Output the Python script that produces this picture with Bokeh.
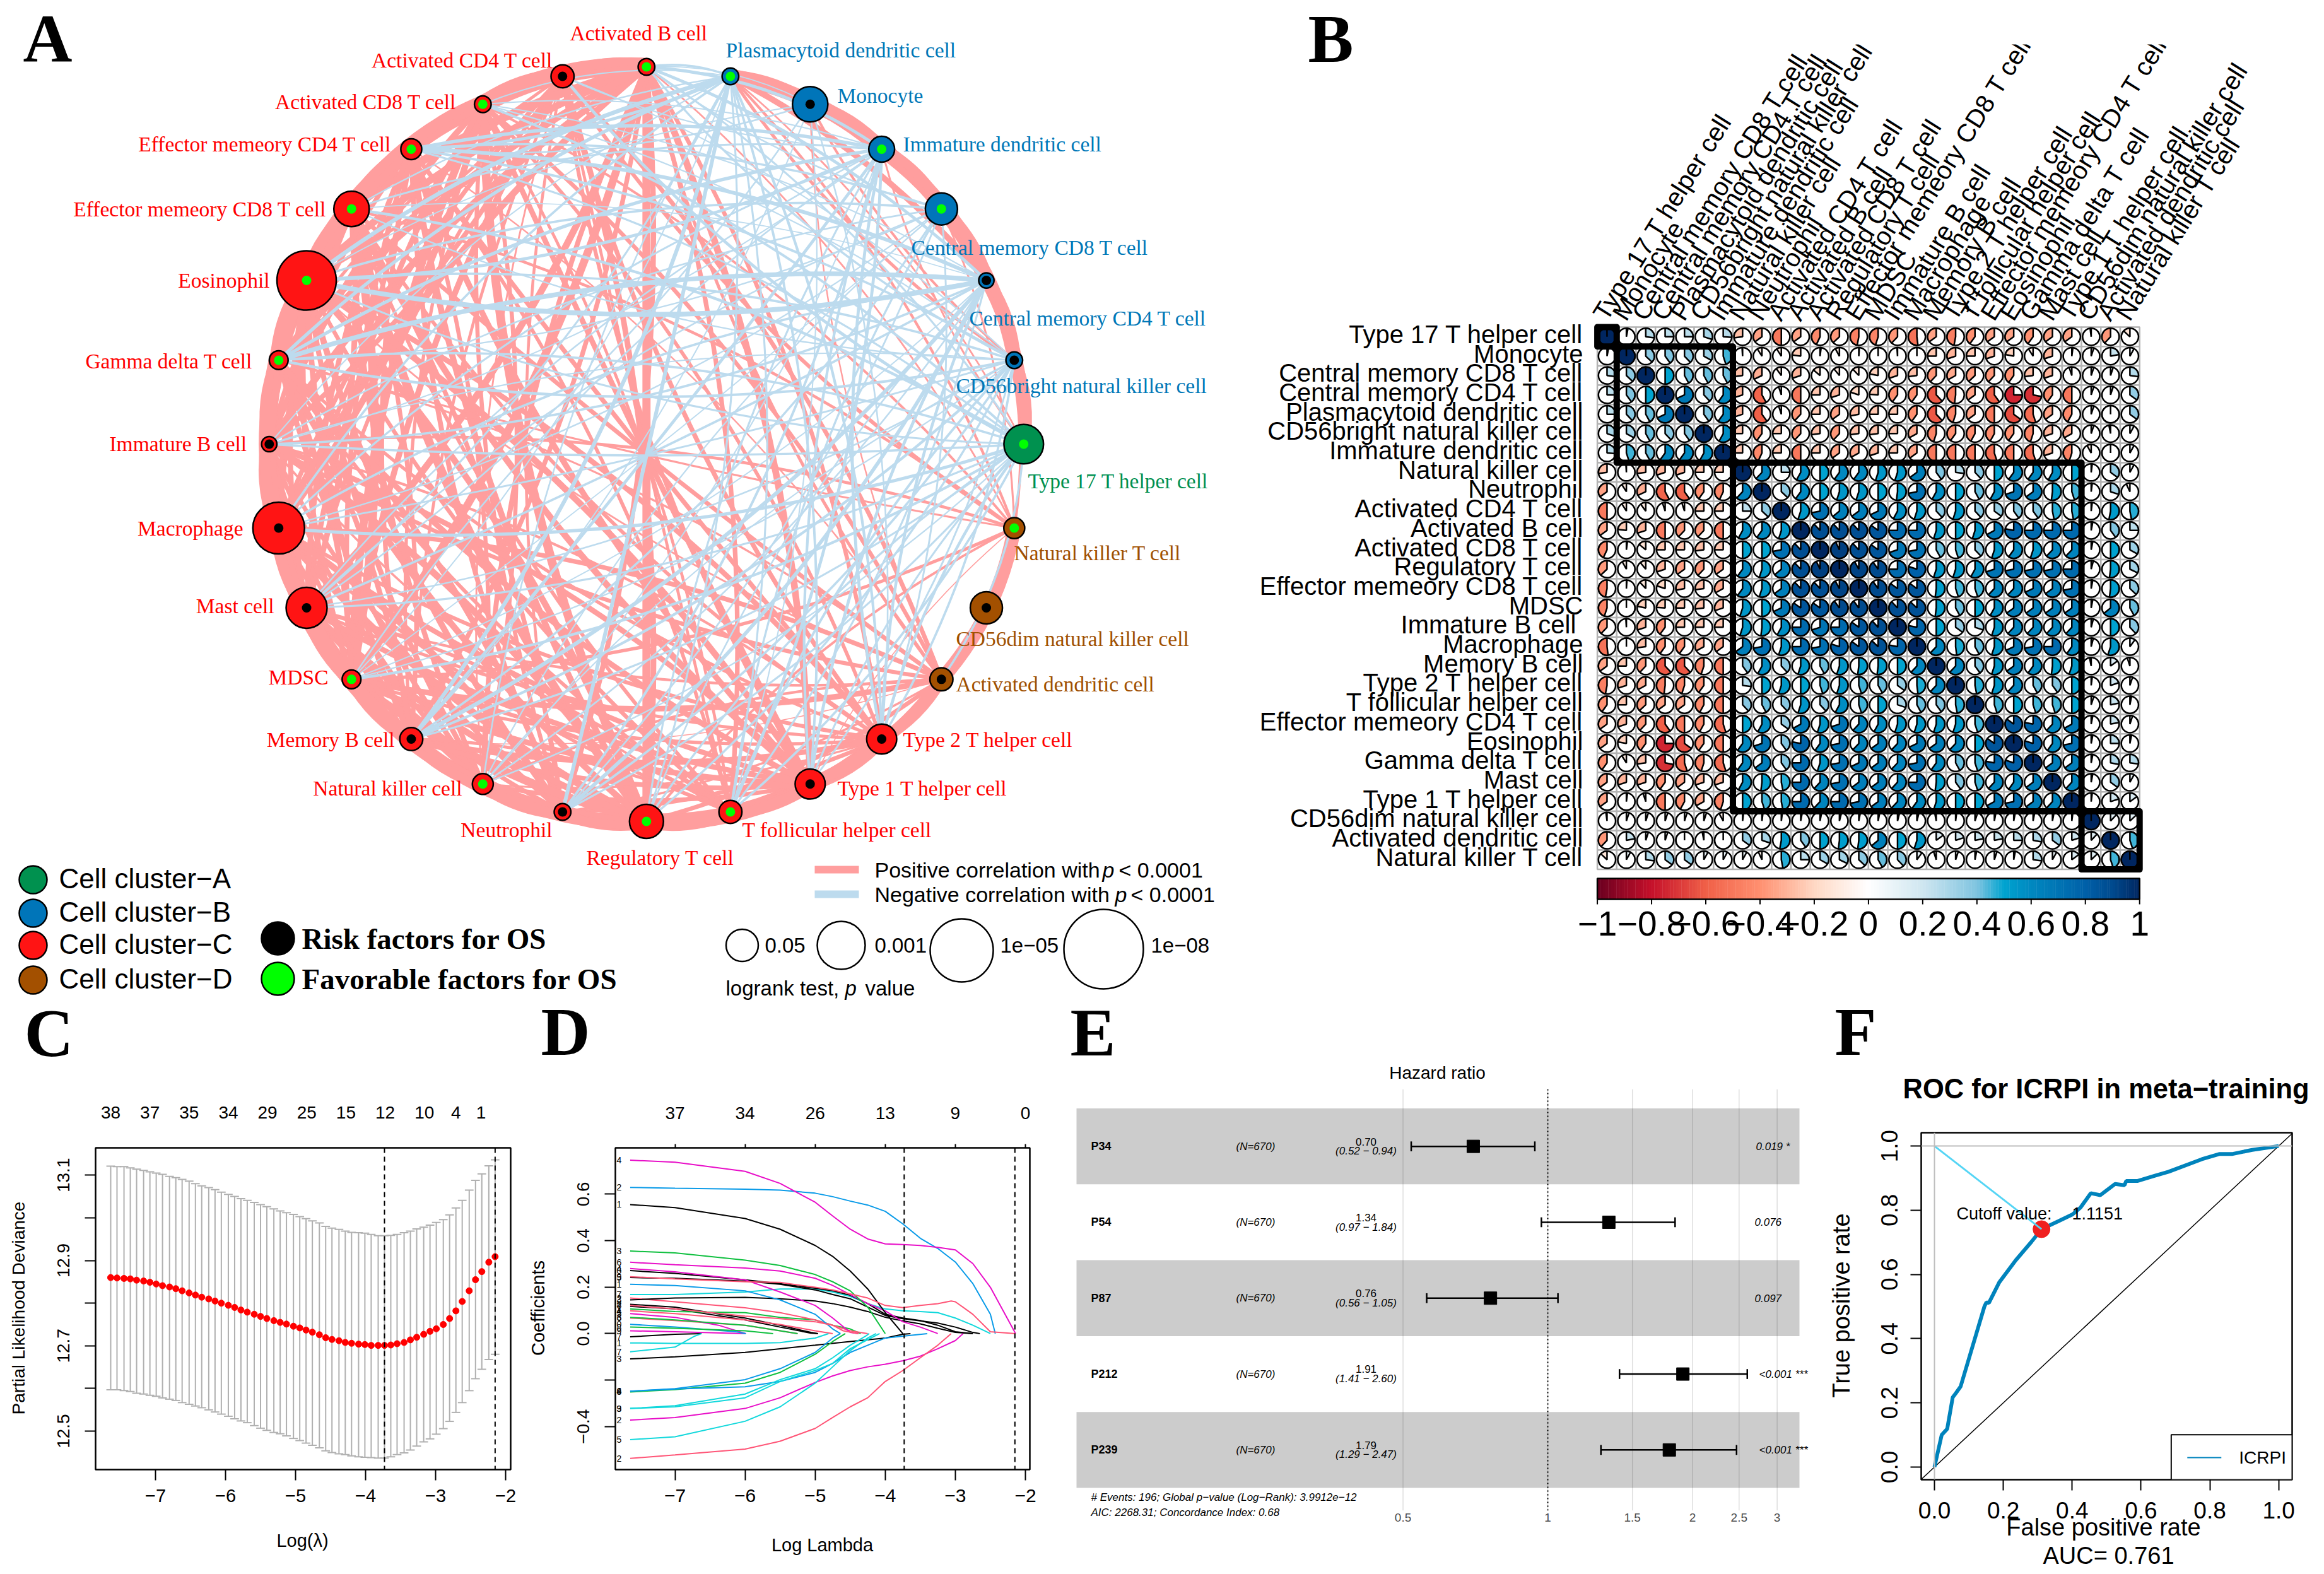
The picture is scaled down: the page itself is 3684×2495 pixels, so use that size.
import math
import numpy as np
from bokeh.plotting import figure
from bokeh.models import Range1d, Span, LinearAxis, FixedTicker, ColumnDataSource
from bokeh.core.properties import value
from bokeh.embed import file_html
from bokeh.resources import INLINE

SANS = "Liberation Sans"
SERIF = "Liberation Serif"
TOP = 2495

# ---------------- data: panel B / A ----------------
CELLS = ["Type 17 T helper cell", "Monocyte", "Central memory CD8 T cell", "Central memory CD4 T cell",
         "Plasmacytoid dendritic cell", "CD56bright natural killer cell", "Immature dendritic cell",
         "Natural killer cell", "Neutrophil", "Activated CD4 T cell", "Activated B cell", "Activated CD8 T cell",
         "Regulatory T cell", "Effector memeory CD8 T cell", "MDSC", "Immature  B cell", "Macrophage",
         "Memory B cell", "Type 2 T helper cell", "T follicular helper cell", "Effector memeory CD4 T cell",
         "Eosinophil", "Gamma delta T cell", "Mast cell", "Type 1 T helper cell", "CD56dim natural killer cell",
         "Activated dendritic cell", "Natural killer T cell"]
# upper triangle of the correlation matrix, x100
R_UPPER = [
 [3,27,25,25,30,26,-27,-35,-50,-35,-43,-37,-47,-45,-38,-52,-35,-47,-40,-35,-35,-40,-35,-35,-2,-38,-13],
 [37,40,38,33,45,-1,-9,-9,-23,2,-8,1,0,-1,0,-25,-30,-25,-30,-22,-9,-30,2,5,22,8],
 [50,42,42,42,-27,-32,-10,-30,-14,-11,-12,-22,-30,-27,-38,-33,-37,-38,-40,-27,-30,-5,5,5,27],
 [68,38,60,-30,-58,-5,-50,-25,-30,-20,-24,-40,-40,-62,-48,-35,-60,-75,-72,-40,-50,5,5,35],
 [40,60,-30,-60,-5,-38,-25,-35,-28,-25,-25,-40,-62,-45,-35,-50,-65,-55,-35,-42,5,0,35],
 [58,-25,-40,-25,-38,-27,-38,-27,-27,-25,-33,-45,-40,-42,-42,-40,-45,-30,-33,5,-3,8],
 [-25,-43,-25,-50,-25,-35,-33,-30,-25,-35,-50,-50,-50,-55,-50,-55,-30,-45,-8,0,8],
 [62,25,58,50,60,60,55,55,65,40,27,38,50,60,60,58,50,2,35,8],
 [37,60,50,55,55,50,52,72,58,50,42,58,70,65,52,45,2,30,-7],
 [55,72,64,65,68,58,55,38,55,38,35,40,40,47,47,2,53,47],
 [88,88,88,85,75,75,55,50,55,67,78,75,75,75,3,40,25],
 [93,88,85,70,72,42,45,38,55,60,55,62,62,3,50,33],
 [92,90,75,80,55,55,58,70,72,72,72,75,4,52,32],
 [90,85,85,52,45,45,62,62,68,65,72,3,52,37],
 [88,87,52,42,50,58,65,65,65,65,3,64,42],
 [78,50,35,30,55,62,62,62,62,4,50,38],
 [62,48,42,55,68,72,75,60,4,55,10],
 [62,40,55,65,60,52,55,-3,15,-5],
 [47,55,62,42,40,50,2,20,5],
 [45,50,45,45,50,5,22,3],
 [85,78,62,67,3,22,5],
 [80,60,72,3,25,3],
 [65,65,3,28,27],
 [62,3,35,8],
 [2,20,15],
 [12,13],
 [45],
]
BLOCKS = [1, 6, 18, 3]

# network: clockwise from the top
NET_ORDER = ["Activated B cell", "Plasmacytoid dendritic cell", "Monocyte", "Immature dendritic cell",
             "Central memory CD8 T cell", "Central memory CD4 T cell", "CD56bright natural killer cell",
             "Type 17 T helper cell", "Natural killer T cell", "CD56dim natural killer cell",
             "Activated dendritic cell", "Type 2 T helper cell", "Type 1 T helper cell", "T follicular helper cell",
             "Regulatory T cell", "Neutrophil", "Natural killer cell", "Memory B cell", "MDSC", "Mast cell",
             "Macrophage", "Immature  B cell", "Gamma delta T cell", "Eosinophil", "Effector memeory CD8 T cell",
             "Effector memeory CD4 T cell", "Activated CD8 T cell", "Activated CD4 T cell"]
NET_CLUSTER = list("CBBBBBBADDDCCCCCCCCCCCCCCCCC")
NET_MLOGP = [0.2, 0.2, 1.65, 0.85, 1.3, 0.1, 0.2, 2.1, 0.5, 1.3, 0.65, 1.15, 1.15, 0.65, 1.5, 0.2, 0.5, 0.65,
             0.35, 2.25, 3.5, 0.1, 0.35, 4.5, 1.65, 0.5, 0.2, 0.65]
NET_RISK = list("FFRFFRRFFRRRRFFRFRFRRRFFFFFR")

CLUSTER_COL = {"A": "#00914F", "B": "#0075B9", "C": "#FF1414", "D": "#A35000"}
RISK_COL = {"R": "#000000", "F": "#00FF00"}
LEG_P = ["0.05", "0.001", "1e\u221205", "1e\u221208"]
LEG_MLOGP = [1.3, 3.0, 5.0, 8.0]

# ---------------- data: panel C ----------------
C_X = [-7.64,-7.55,-7.45,-7.36,-7.27,-7.17,-7.08,-6.99,-6.90,-6.80,-6.71,-6.62,-6.52,-6.43,-6.34,-6.24,-6.15,-6.06,
       -5.96,-5.87,-5.78,-5.69,-5.59,-5.50,-5.41,-5.31,-5.22,-5.13,-5.03,-4.94,-4.85,-4.76,-4.66,-4.57,-4.48,-4.38,
       -4.29,-4.20,-4.10,-4.01,-3.92,-3.82,-3.73,-3.64,-3.55,-3.45,-3.36,-3.27,-3.17,-3.08,-2.99,-2.89,-2.80,-2.71,
       -2.62,-2.52,-2.43,-2.34,-2.24,-2.15]
C_MEAN = [12.860,12.859,12.858,12.857,12.854,12.852,12.849,12.845,12.841,12.838,12.834,12.829,12.824,12.819,12.814,
          12.810,12.805,12.800,12.795,12.790,12.784,12.779,12.774,12.769,12.764,12.759,12.755,12.751,12.746,12.742,
          12.737,12.732,12.726,12.719,12.715,12.712,12.708,12.706,12.704,12.703,12.701,12.701,12.701,12.702,12.705,
          12.708,12.714,12.720,12.727,12.734,12.740,12.750,12.764,12.782,12.804,12.829,12.855,12.874,12.896,12.909]
C_UP = [13.121,13.120,13.120,13.117,13.114,13.111,13.108,13.105,13.102,13.097,13.094,13.090,13.086,13.080,13.075,
        13.071,13.066,13.060,13.055,13.050,13.045,13.041,13.036,13.031,13.026,13.021,13.016,13.012,13.008,13.003,
        12.998,12.993,12.988,12.980,12.976,12.973,12.969,12.966,12.965,12.964,12.961,12.958,12.958,12.959,12.961,
        12.965,12.969,12.974,12.978,12.983,12.989,12.996,13.007,13.023,13.041,13.065,13.088,13.103,13.122,13.136]
C_LO = [12.597,12.597,12.595,12.593,12.589,12.587,12.584,12.582,12.578,12.575,12.572,12.567,12.563,12.559,12.555,
        12.550,12.545,12.540,12.535,12.529,12.524,12.520,12.513,12.507,12.502,12.497,12.494,12.489,12.483,12.478,
        12.472,12.467,12.461,12.454,12.450,12.447,12.445,12.442,12.440,12.439,12.438,12.437,12.437,12.440,12.445,
        12.449,12.456,12.465,12.475,12.482,12.493,12.506,12.523,12.544,12.567,12.595,12.623,12.645,12.668,12.680]
C_TOP_AT = [-7.64,-7.08,-6.52,-5.96,-5.40,-4.84,-4.28,-3.72,-3.16,-2.71,-2.35]
C_TOP_LAB = ["38","37","35","34","29","25","15","12","10","4","1"]
C_VL = [-3.73, -2.15]

# ---------------- data: panel D (colour, label digit, log-lambda, coefficient) ----------------
K = "#000000"; P = "#FF5577"; G = "#10C040"; B = "#0A9BE8"; Y = "#12D8DC"; M = "#E80FC8"
KN = [-7.64,-7,-6,-5.5,-5,-4.75,-4.5,-4.25,-4,-3.75,-3.5,-3.25,-3,-2.75,-2.5]
D_SERIES = [
 (P,"6",[-7.64,-7,-6,-5.5,-5.25],[.067,.056,.036,.012,0]),
 (M,"5",[-7.64,-7,-6.38,-5.99],[.086,.07,.036,0]),
 (M,"9",[-7.64,-7,-5.99],[.012,.008,0]),
 (B,"0",[-7.64,-7,-6.13,-5.99],[.04,.028,.008,0]),
 (G,"8",[-7.64,-7,-6,-5.6],[.028,.023,.012,0]),
 (G,"3",[-7.64,-7,-6,-5.5,-5.25],[.07,.059,.036,.012,0]),
 (K,"7",[-7.64,-7,-6,-5.5,-5.06,-4.96],[.117,.106,.059,.028,.002,0]),
 (K,"2",[-7.64,-7,-6,-5.5,-5.06,-4.96],[.126,.114,.067,.036,.005,0]),
 (P,"4",[-7.64,-7,-6,-5.5,-5,-4.75],[.098,.086,.059,.039,.012,0]),
 (G,"1",[-7.64,-7,-6,-5.5,-5,-4.75,-4.5,-4.35],[.106,.095,.09,.07,.059,.036,.02,0]),
 (P,"2",KN[:8],[.153,.137,.111,.09,.059,.036,.012,0]),
 (K,"3",[-7.64,-7,-6,-5.5,-5,-4.75,-4.5,-4.25,-4,-3.75,-3.5,-3.25,-3,-2.75],[.145,.153,.156,.15,.14,.129,.114,.095,.07,.055,.042,.023,.005,0]),
 (Y,"7",KN,[.168,.168,.179,.192,.192,.179,.16,.129,.106,.098,.095,.09,.067,.036,0]),
 (B,"1",[-7.64,-7,-6,-5.5,-5,-4.75,-4.64],[.212,.207,.184,.145,.083,.02,0]),
 (K,"5",KN[:14]+[-2.65],[.241,.238,.226,.212,.188,.168,.15,.114,.078,.064,.055,.045,.028,.005,0]),
 (K,"8",KN[:13]+[-2.75],[.271,.259,.231,.215,.195,.184,.165,.129,.083,.067,.056,.036,.008,0]),
 (M,"4",[-7.64,-7,-6,-5.5,-5,-4.75,-4.5,-4.38],[.28,.266,.231,.179,.121,.067,.005,0]),
 (M,"6",KN[:12],[.307,.296,.282,.269,.238,.207,.168,.129,.098,.051,.028,0]),
 (G,"3",KN[:9],[.355,.347,.316,.293,.254,.223,.184,.114,0]),
 (K,"1",KN[:10],[.555,.542,.495,.449,.379,.332,.269,.192,.09,0]),
 (B,"2",KN+[-2.43],[.629,.625,.621,.617,.604,.589,.57,.553,.526,.472,.41,.366,.308,.215,.083,0]),
 (M,"4",KN+[-2.14],[.746,.737,.698,.646,.565,.506,.449,.407,.386,.383,.379,.371,.36,.301,.199,0]),
 (K,"7",[-7.64,-7,-6.62],[-.014,-.003,0]),
 (Y,"7",[-7.64,-7,-6.72,-6.62],[-.078,-.058,-.011,0]),
 (Y,"1",[-7.64,-7,-6,-5.5,-5,-4.81],[-.04,-.042,-.042,-.039,-.019,0]),
 (K,"3",[-7.64,-7,-6,-5.5,-5,-4.5,-4,-3.75,-3.64],[-.109,-.1,-.081,-.065,-.05,-.034,-.019,-.003,0]),
 (B,"4",[-7.64,-7,-6,-5.5,-5,-4.75,-4.64],[-.248,-.237,-.198,-.151,-.081,-.019,0]),
 (G,"8",[-7.64,-7,-6,-5.5,-5,-4.75,-4.57],[-.251,-.241,-.213,-.167,-.089,-.034,0]),
 (B,"6",[-7.64,-7,-6,-5.5,-5,-4.75,-4.5,-4.25,-4,-3.75,-3.4],[-.248,-.238,-.229,-.206,-.167,-.128,-.081,-.05,-.019,-.011,0]),
 (Y,"9",[-7.64,-7,-6,-5.5,-5,-4.75,-4.5,-4.28,-4.23],[-.322,-.31,-.26,-.198,-.151,-.104,-.05,-.011,0]),
 (Y,"3",[-7.64,-7,-6,-5.5,-5,-4.75,-4.5,-4.25,-4.08],[-.322,-.315,-.276,-.206,-.159,-.128,-.065,-.026,0]),
 (M,"2",KN[:13]+[-2.89],[-.372,-.361,-.322,-.276,-.21,-.182,-.159,-.143,-.132,-.117,-.097,-.065,-.03,0]),
 (Y,"5",[-7.64,-7,-6,-5.5,-5,-4.75,-4.5,-4.25,-4.13],[-.456,-.444,-.377,-.315,-.213,-.143,-.073,-.019,0]),
 (P,"2",KN[:12]+[-3.06],[-.537,-.522,-.497,-.463,-.408,-.361,-.315,-.276,-.206,-.159,-.104,-.05,0]),
 (P,"8",[-7.64,-7,-6,-5.5,-5,-4.75,-4.6,-4.38],[.121,.106,.075,.064,.051,.036,.012,0]),
 (P,"9",[-7.64,-7,-6,-5.5,-5,-4.75,-4.5,-4.25,-4,-3.75,-3.5,-3.25,-3.06,-3,-2.75,-2.5,-2.14],
    [.245,.235,.223,.22,.199,.188,.171,.153,.121,.112,.121,.129,.14,.137,.083,.008,0]),
]
D_VL = [-3.73, -2.15]
D_TOP_AT = [-7, -6, -5, -4, -3, -2]
D_TOP_LAB = ["37", "34", "26", "13", "9", "0"]

# ---------------- data: panel E ----------------
E_NAMES = ["P34", "P54", "P87", "P212", "P239"]
E_HR = [0.70, 1.34, 0.76, 1.91, 1.79]
E_LOW = [0.52, 0.97, 0.56, 1.41, 1.29]
E_HIGH = [0.94, 1.84, 1.05, 2.60, 2.47]
E_P = ["0.019 *", "0.076", "0.097", "<0.001 ***", "<0.001 ***"]
E_TICKS = [0.5, 1, 1.5, 2, 2.5, 3]

# ---------------- data: panel F ----------------
F_FPR = [0,.021,.037,.053,.062,.076,.145,.151,.158,.188,.236,.282,.311,.36,.401,.424,.454,.482,.525,.552,.557,.589,.639,.680,.777,.827,.864,.923,1]
F_TPR = [0,.10,.119,.217,.23,.251,.50,.513,.511,.575,.644,.702,.741,.766,.787,.808,.853,.847,.882,.878,.891,.891,.907,.920,.959,.975,.975,.988,1]
F_CUT = (.311, .741)

# ---------------- helpers ----------------
def place(p, x, y):
    p.styles = {"position": "absolute", "left": f"{x}px", "top": f"{y}px"}
    return p

def txt(p, x, y, s, size, font=SANS, style="normal", color="black", align="left", baseline="middle", angle=0):
    p.text(x=x, y=y, text=s, text_font_size=f"{size}px", text_font=value(font), text_font_style=style,
           text_color=color, text_align=align, text_baseline=baseline, angle=angle)

STOPS = [(-1,"#6A0020"),(-.8,"#C5102A"),(-.6,"#F06048"),(-.4,"#FF9070"),(-.2,"#FFD8C4"),(0,"#FFFFFF"),
         (.2,"#CFE6F0"),(.4,"#7FC4E0"),(.5,"#00A3D0"),(.6,"#0088C0"),(.8,"#0060A8"),(.9,"#004A8E"),(1,"#002660")]
def col(v):
    vs = [s[0] for s in STOPS]
    rgb = []
    for c in range(3):
        ch = [int(s[1][1+2*c:3+2*c], 16) for s in STOPS]
        rgb.append(int(round(np.interp(v, vs, ch))))
    return "#%02X%02X%02X" % tuple(rgb)

N = len(CELLS)
R = np.eye(N)
for i, r_row in enumerate(R_UPPER):
    for j, v in enumerate(r_row):
        R[i, i + 1 + j] = v / 100
        R[i + 1 + j, i] = v / 100

def node_radius(m):
    return np.interp(m, [0, 1.3, 3, 5, 8], [11, 25.5, 38, 50, 63])

def bare(width, height, xr, yr, top=0):
    p = figure(width=width, height=height, x_range=Range1d(*xr), y_range=Range1d(*yr), output_backend="svg",
               toolbar_location=None, x_axis_location=None, y_axis_location=None,
               min_border_left=0, min_border_right=0, min_border_top=top, min_border_bottom=0)
    p.grid.visible = False
    p.outline_line_color = None
    return p

# overlay for titles that sit outside the frames, in page pixels
po = bare(3676, 2487, (0, 3676), (TOP - 2487, TOP))
po.background_fill_color = None
po.border_fill_color = None
def lab(x, y, s, size, font=SANS, style="normal", align="left", baseline="middle", angle=0):
    txt(po, [x], [TOP - y], [s], size, font=font, style=style, align=align, baseline=baseline, angle=angle)
def letter(x, y, s):
    lab(x, y - 3, s, 108, font=SERIF, style="bold")

# ================ PANEL A ================
pa = bare(1952, 1587, (8, 1960), (TOP - 1595, TOP - 8))
CX, CY, RAD = 1024.3, TOP - 703.5, 598
nn = len(NET_ORDER)
ang = [math.pi / 2 - 2 * math.pi * i / nn for i in range(nn)]
NX = [CX + RAD * math.cos(a) for a in ang]
NY = [CY + RAD * math.sin(a) for a in ang]
pos_of = {n: k for k, n in enumerate(NET_ORDER)}
PINK, LBLUE = "#FF9E9E", "#BDDBEE"
edges = {s: dict(x0=[], y0=[], x1=[], y1=[], cx=[], cy=[], w=[]) for s in (1, -1)}
for ia in range(N):
    for ib in range(ia + 1, N):
        r = R[ia, ib]
        if abs(r) < 0.15:
            continue
        a, b = pos_of[CELLS[ia]], pos_of[CELLS[ib]]
        mx, my = (NX[a] + NX[b]) / 2, (NY[a] + NY[b]) / 2
        d = math.hypot(NX[a] - NX[b], NY[a] - NY[b])
        ox, oy = mx - CX, my - CY
        L = math.hypot(ox, oy)
        if L < 20:
            ox, oy, L = 0, -1, 1
        if d < 500:
            c = 0.14
        elif L < 20:
            c = 0.03
        else:
            c = -0.10 if (ia * 7 + ib) % 3 == 0 else 0.10
        e = edges[1 if r > 0 else -1]
        e["x0"].append(NX[a]); e["y0"].append(NY[a]); e["x1"].append(NX[b]); e["y1"].append(NY[b])
        e["cx"].append(mx + ox / L * d * c); e["cy"].append(my + oy / L * d * c)
        if r > 0:
            e["w"].append(15 * abs(r) ** 1.2 + (16 if d < 300 else 0))
        else:
            e["w"].append(11 * abs(r) ** 1.2)
for s, c in ((1, PINK), (-1, LBLUE)):
    pa.quadratic(x0="x0", y0="y0", x1="x1", y1="y1", cx="cx", cy="cy", line_color=c, line_width="w", source=ColumnDataSource(edges[s]))
pa.circle(x=NX, y=NY, radius=[float(node_radius(m)) for m in NET_MLOGP],
          fill_color=[CLUSTER_COL[c] for c in NET_CLUSTER], line_color="black", line_width=2.5)
pa.circle(x=NX, y=NY, radius=7.5, fill_color=[RISK_COL[c] for c in NET_RISK], line_color=None)
LABEL_POS = [(903,52,"left"),(1150,79,"left"),(1327,151,"left"),(1431,228,"left"),(1444,392,"left"),(1536,504,"left"),
             (1515,611,"left"),(1629,762,"left"),(1607,876,"left"),(1515,1012,"left"),(1515,1084,"left"),(1431,1172,"left"),
             (1327,1249,"left"),(1176,1315,"left"),(929,1359,"left"),(875,1315,"right"),(732,1249,"right"),(625,1172,"right"),
             (520,1073,"right"),(434,960,"right"),(385,837,"right"),(399,703,"right"),(400,572,"right"),(427,444,"right"),
             (517,331,"right"),(620,228,"right"),(723,161,"right"),(876,95,"right")]
TXT_COL = {"A": "#009050", "B": "#0078B8", "C": "#FF0000", "D": "#A05000"}
for (lx, ly, al), name, cl in zip(LABEL_POS, NET_ORDER, NET_CLUSTER):
    txt(pa, [lx], [TOP - ly], [name], 33.5, font=SERIF, color=TXT_COL[cl], align=al)
for ly, c in zip([1394, 1447, 1498, 1553], "ABCD"):
    pa.circle(x=[52], y=[TOP - ly], radius=22, fill_color=CLUSTER_COL[c], line_color="black", line_width=2.5)
    txt(pa, [93], [TOP - ly + 2], [f"Cell cluster\u2212{c}"], 44)
for ly, c, s in zip([1487, 1551], "RF", ["Risk factors  for OS", "Favorable factors  for OS"]):
    pa.circle(x=[440], y=[TOP - ly], radius=26, fill_color=RISK_COL[c], line_color="black", line_width=2.5)
    txt(pa, [478], [TOP - ly], [s], 47, font=SERIF, style="bold")
pa.quad(left=[1291], right=[1361], top=[TOP - 1372], bottom=[TOP - 1384], fill_color=PINK, line_color=None)
pa.quad(left=[1291], right=[1361], top=[TOP - 1411], bottom=[TOP - 1423], fill_color=LBLUE, line_color=None)
txt(pa, [1386], [TOP - 1378], ["Positive correlation with"], 34)
txt(pa, [1747], [TOP - 1378], ["p"], 34, style="italic")
txt(pa, [1773], [TOP - 1378], ["< 0.0001"], 34)
txt(pa, [1386], [TOP - 1417], ["Negative correlation with"], 34)
txt(pa, [1767], [TOP - 1417], ["p"], 34, style="italic")
txt(pa, [1792], [TOP - 1417], ["< 0.0001"], 34)
LEG_X = [1176, 1333, 1524, 1749]
LEG_Y = [1498, 1498, 1506, 1504]
LEG_TX = [1212, 1386, 1585, 1824]
for m, lx, ly, tx_, s in zip(LEG_MLOGP, LEG_X, LEG_Y, LEG_TX, LEG_P):
    pa.circle(x=[lx], y=[TOP - ly], radius=float(node_radius(m)), fill_color="white", line_color="black", line_width=2.5)
    txt(pa, [tx_], [TOP - 1498], [s], 33)
txt(pa, [1150], [TOP - 1566], ["logrank test,"], 33)
txt(pa, [1339], [TOP - 1566], ["p"], 33, style="italic")
txt(pa, [1371], [TOP - 1566], ["value"], 33)
letter(36, 64, "A")

# ================ PANEL B ================
pb = bare(1716, 1587, (1960, 3676), (TOP - 1595, TOP - 70), top=62)
GX0, GY0, CELL = 2531.6, 518.0, 30.7
gx = lambda k: GX0 + CELL * (k + 0.5)
gy = lambda i: TOP - (GY0 + CELL * (i + 0.5))
cx_all = [gx(k) for i in range(N) for k in range(N)]
cy_all = [gy(i) for i in range(N) for k in range(N)]
pb.rect(x=cx_all, y=cy_all, width=CELL, height=CELL, fill_color="white", line_color="#B3B3B3", line_width=2.5)
pb.circle(x=cx_all, y=cy_all, radius=13.6, fill_color="white", line_color="black", line_width=2.5)
vals = [float(R[i, k]) for i in range(N) for k in range(N)]
pos = [n for n, v in enumerate(vals) if v >= 0]
neg = [n for n, v in enumerate(vals) if v < 0]
pb.wedge(x=[cx_all[n] for n in pos], y=[cy_all[n] for n in pos], radius=13.6, start_angle=math.pi / 2,
         end_angle=[math.pi / 2 - 2 * math.pi * min(vals[n], .998) for n in pos], direction="clock",
         fill_color=[col(vals[n]) for n in pos], line_color="black", line_width=2.5)
pb.wedge(x=[cx_all[n] for n in neg], y=[cy_all[n] for n in neg], radius=13.6, start_angle=math.pi / 2,
         end_angle=[math.pi / 2 + 2 * math.pi * abs(vals[n]) for n in neg], direction="anticlock",
         fill_color=[col(vals[n]) for n in neg], line_color="black", line_width=2.5)
start = 0
for b in BLOCKS:
    pb.quad(left=[GX0 + CELL * start], right=[GX0 + CELL * (start + b)], top=[TOP - (GY0 + CELL * start)],
            bottom=[TOP - (GY0 + CELL * (start + b))], fill_color=None, line_color="black", line_width=10, line_join="round")
    start += b
txt(pb, [2509] * N, [gy(i) + 4 for i in range(N)], CELLS, 40, align="right")
txt(pb, [gx(k) - 12 for k in range(N)], [TOP - 503] * N, CELLS, 40.5, angle=math.radians(58))
nseg = 200
bar_v = np.linspace(-1, 1, nseg + 1)
W = CELL * N
pb.quad(left=[GX0 + (v + 1) / 2 * W for v in bar_v[:-1]], right=[GX0 + (v + 1) / 2 * W + .4 for v in bar_v[1:]],
        top=TOP - 1392, bottom=TOP - 1425, fill_color=[col((a + c) / 2) for a, c in zip(bar_v[:-1], bar_v[1:])], line_color=None)
pb.quad(left=[GX0], right=[GX0 + W], top=[TOP - 1392], bottom=[TOP - 1425], fill_color=None, line_color="black", line_width=2.5)
BAR_TICKS = [-1, -.8, -.6, -.4, -.2, 0, .2, .4, .6, .8, 1]
BAR_LAB = ["\u22121", "\u22120.8", "\u22120.6", "\u22120.4", "\u22120.2", "0", "0.2", "0.4", "0.6", "0.8", "1"]
tx = [GX0 + (v + 1) / 2 * W for v in BAR_TICKS]
pb.segment(x0=tx, x1=tx, y0=TOP - 1425, y1=TOP - 1433, line_color="black", line_width=2)
txt(pb, tx, [TOP - 1463] * len(tx), BAR_LAB, 55, align="center")
letter(2073, 64, "B")

# ================ R-like axes ================
def rfig(width, height, xr, yr, l, r, t, b, **kw):
    p = figure(width=width, height=height, x_range=Range1d(*xr), y_range=Range1d(*yr), output_backend="svg",
               toolbar_location=None, min_border_left=l, min_border_right=r, min_border_top=t, min_border_bottom=b, **kw)
    p.grid.visible = False
    p.outline_line_color = "black"
    p.outline_line_width = 2.5
    return p

def style_axis(ax, ticks, labels, size, standoff, tick=17, vertical=False):
    ax.ticker = FixedTicker(ticks=ticks)
    ax.major_label_overrides = dict(zip(ticks, labels))
    ax.major_label_text_font = SANS
    ax.major_label_text_font_size = f"{size}px"
    ax.major_label_text_color = "black"
    ax.major_label_standoff = standoff
    ax.major_tick_out = tick
    ax.major_tick_in = 0
    ax.major_tick_line_color = "black"
    ax.major_tick_line_width = 2
    ax.minor_tick_line_color = None
    ax.axis_line_color = None
    if vertical:
        ax.major_label_orientation = "vertical"

# ================ PANEL C ================
pc = rfig(827, 892, (-7.856, -1.928), (12.41, 13.164), 143, 26, 224, 158)
style_axis(pc.xaxis[0], [-7, -6, -5, -4, -3, -2], ["\u22127", "\u22126", "\u22125", "\u22124", "\u22123", "\u22122"], 29, 14)
style_axis(pc.yaxis[0], [12.5, 12.6, 12.7, 12.8, 12.9, 13.0, 13.1], ["12.5", "", "12.7", "", "12.9", "", "13.1"], 28, 24, vertical=True)
ta = LinearAxis()
style_axis(ta, C_TOP_AT, C_TOP_LAB, 28, 47, tick=0)
ta.major_tick_line_color = None
pc.add_layout(ta, "above")
GRAY = "#B0B0B0"
pc.segment(x0=C_X, x1=C_X, y0=C_LO, y1=C_UP, line_color=GRAY, line_width=2)
capw = 0.062
pc.segment(x0=[x - capw for x in C_X], x1=[x + capw for x in C_X], y0=C_UP, y1=C_UP, line_color=GRAY, line_width=2)
pc.segment(x0=[x - capw for x in C_X], x1=[x + capw for x in C_X], y0=C_LO, y1=C_LO, line_color=GRAY, line_width=2)
pc.scatter(x=C_X, y=C_MEAN, size=10, color="#FF0000")
for v in C_VL:
    pc.add_layout(Span(location=v, dimension="height", line_color="black", line_width=2, line_dash="8 6"))
lab(479, 2441, "Log(\u03bb)", 29, align="center")
lab(29, 2073, "Partial Likelihood Deviance", 28, align="center", angle=math.pi / 2)
letter(38, 1640, "C")

# ================ PANEL D ================
pd_ = rfig(855, 892, (-7.851, -1.937), (-.585, .799), 140, 58, 224, 158)
xD = lambda s: -7 + (s - 1069.6) / 111.1
style_axis(pd_.xaxis[0], [-7, -6, -5, -4, -3, -2], ["\u22127", "\u22126", "\u22125", "\u22124", "\u22123", "\u22122"], 30, 14)
style_axis(pd_.yaxis[0], [-.4, -.2, 0, .2, .4, .6], ["\u22120.4", "", "0.0", "0.2", "0.4", "0.6"], 28, 24, vertical=True)
ta = LinearAxis()
style_axis(ta, D_TOP_AT, D_TOP_LAB, 28, 40, tick=6)
pd_.add_layout(ta, "above")
for c, d, xs, ys in D_SERIES:
    xs2 = list(xs) + ([-2.14] if xs[-1] > -2.14 else [])
    ys2 = list(ys) + ([0] if xs[-1] > -2.14 else [])
    pd_.line(xs2, ys2, line_color=c, line_width=2)
    txt(pd_, [xD(977)], [ys[0]], [d], 14, align="left")
for v in D_VL:
    pd_.add_layout(Span(location=v, dimension="height", line_color="black", line_width=2, line_dash="8 6"))
lab(1303, 2448, "Log Lambda", 29, align="center")
lab(852, 2073, "Coefficients", 29, align="center", angle=math.pi / 2)
letter(857, 1638, "D")

# ================ PANEL E ================
xE = lambda s: math.exp((s - 2453) / 331)
yE = lambda s: (2358 - s) / 120.3
pe = figure(width=1205, height=892, x_axis_type="log", x_range=Range1d(xE(1700), xE(2890)), y_range=Range1d(yE(2394), yE(1726)),
            output_backend="svg", toolbar_location=None, min_border_left=10, min_border_right=5, min_border_top=131, min_border_bottom=93,
            y_axis_location=None)
pe.grid.visible = False
pe.outline_line_color = None
ax = pe.xaxis[0]
style_axis(ax, E_TICKS, ["0.5", "1", "1.5", "2", "2.5", "3"], 19, 4, tick=0)
ax.major_tick_line_color = None
ax.major_label_text_color = "#4D4D4D"
ny = len(E_NAMES)
E_Y = [ny - 1 - k + .5 for k in range(ny)]
band = [k for k in range(ny) if k % 2 == 0]
pe.quad(left=xE(1706), right=xE(2852), top=[E_Y[k] + .5 for k in band], bottom=[E_Y[k] - .5 for k in band], fill_color="#CCCCCC", line_color=None)
for t in E_TICKS:
    pe.add_layout(Span(location=t, dimension="height", line_color="black", line_alpha=.13, line_width=1.5))
pe.add_layout(Span(location=1, dimension="height", line_color="black", line_width=2, line_dash="2 4"))
pe.segment(x0=E_LOW, x1=E_HIGH, y0=E_Y, y1=E_Y, line_color="black", line_width=2.5)
for vs in (E_LOW, E_HIGH):
    pe.segment(x0=vs, x1=vs, y0=[y - .065 for y in E_Y], y1=[y + .065 for y in E_Y], line_color="black", line_width=2.5)
pe.scatter(x=E_HR, y=E_Y, marker="square", size=20, color="black")
txt(pe, [xE(1729)] * ny, E_Y, E_NAMES, 18, style="bold")
txt(pe, [xE(1959)] * ny, E_Y, ["(N=670)"] * ny, 17, style="italic")
txt(pe, [xE(2165)] * ny, [y + .063 for y in E_Y], [f"{h:.2f}" for h in E_HR], 17, align="center")
txt(pe, [xE(2165)] * ny, [y - .063 for y in E_Y], [f"({a:.2f} \u2212 {b:.2f})" for a, b in zip(E_LOW, E_HIGH)], 17, style="italic", align="center")
E_PX = [2783, 2781, 2781, 2788, 2788]
txt(pe, [xE(s) for s in E_PX], E_Y, E_P, 17, style="italic")
lab(2278, 1700, "Hazard ratio", 28, align="center")
lab(1729, 2373, "# Events: 196; Global p\u2212value (Log\u2212Rank): 3.9912e\u221212", 17, style="italic")
lab(1729, 2397, "AIC: 2268.31; Concordance Index: 0.68", 17, style="italic")
letter(1696, 1639, "E")

# ================ PANEL F ================
pf = rfig(781, 892, (-.0385, 1.039), (-.0394, 1.0415), 150, 43, 200, 142)
xF = lambda s: (s - 3066) / 546
yF = lambda s: (2325 - s) / 508
ft = [0, .2, .4, .6, .8, 1]
ftl = ["0.0", "0.2", "0.4", "0.6", "0.8", "1.0"]
style_axis(pf.xaxis[0], ft, ftl, 37, 18)
style_axis(pf.yaxis[0], ft, ftl, 37, 20, vertical=True)
pf.add_layout(Span(location=1, dimension="width", line_color="#BEBEBE", line_width=2))
pf.add_layout(Span(location=0, dimension="height", line_color="#BEBEBE", line_width=2))
pf.line([-.0385, 1.039], [-.0385, 1.039], line_color="black", line_width=1.5)
pf.line(F_FPR, F_TPR, line_color="#0083BC", line_width=6)
pf.scatter(x=[F_CUT[0]], y=[F_CUT[1]], size=27, color="#F02020")
pf.line([0, F_CUT[0]], [1, F_CUT[1]], line_color="#55D5F5", line_width=3)
txt(pf, [xF(3101)], [yF(1924)], ["Cutoff value:"], 27)
txt(pf, [xF(3284)], [yF(1924)], ["1.1151"], 27)
pf.quad(left=[xF(3441.5)], right=[1.039], top=[yF(2274)], bottom=[-.0394], fill_color="white", line_color="black", line_width=2)
pf.line([xF(3467), xF(3521)], [yF(2310), yF(2310)], line_color="#0083BC", line_width=2)
txt(pf, [xF(3549)], [yF(2310)], ["ICRPI"], 28)
lab(3016, 1725, "ROC for ICRPI in meta\u2212training", 43.5, style="bold")
lab(2918, 2069, "True positive rate", 38, align="center", angle=math.pi / 2)
lab(3334, 2420, "False positive rate", 38, align="center")
lab(3342, 2465, "AUC= 0.761", 38, align="center")
letter(2908, 1638, "F")

place(pa, 8, 8); place(pb, 1960, 8)
place(pc, 8, 1595); place(pd_, 835, 1595); place(pe, 1690, 1595); place(pf, 2895, 1595)
place(po, 0, 0)
open("out.html", "w").write(file_html([pa, pb, pc, pd_, pe, pf, po], INLINE))
